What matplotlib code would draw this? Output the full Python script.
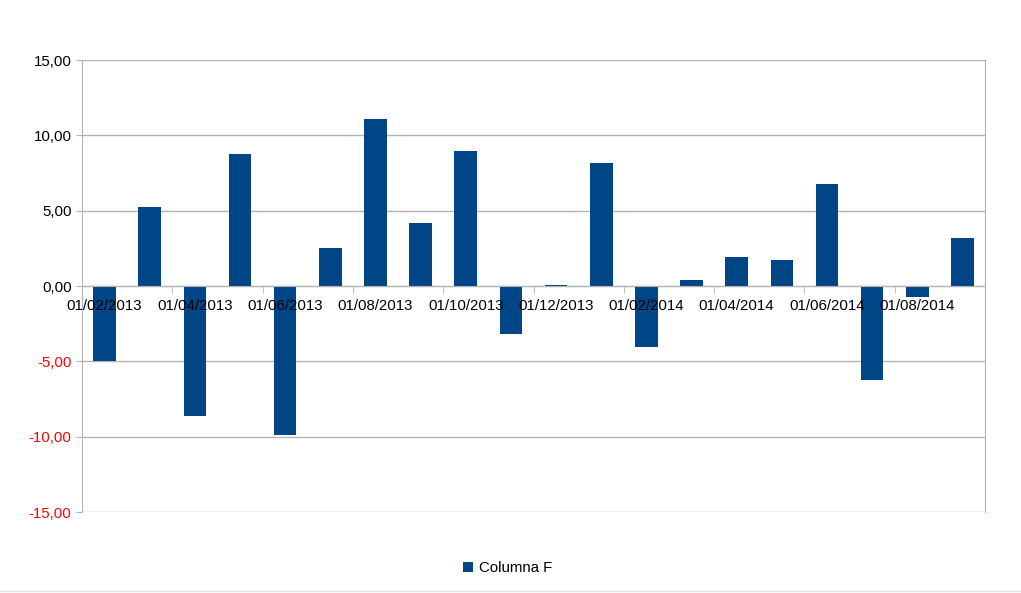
import numpy as np
import matplotlib.pyplot as plt
from matplotlib.lines import Line2D

plt.rcParams['font.family'] = ['Liberation Sans', 'DejaVu Sans']

# Monthly values (Columna F)
months = ['01/02/2013', '01/03/2013', '01/04/2013', '01/05/2013', '01/06/2013',
          '01/07/2013', '01/08/2013', '01/09/2013', '01/10/2013', '01/11/2013',
          '01/12/2013', '01/01/2014', '01/02/2014', '01/03/2014', '01/04/2014',
          '01/05/2014', '01/06/2014', '01/07/2014', '01/08/2014', '01/09/2014']
values = [-4.98, 5.23, -8.63, 8.74, -9.89, 2.54, 11.07, 4.18, 8.99, -3.21,
          0.07, 8.17, -4.03, 0.40, 1.95, 1.73, 6.75, -6.22, -0.76, 3.20]
yticks = [-15, -10, -5, 0, 5, 10, 15]

grey = '#b3b3b3'
fig = plt.figure(figsize=(10.21, 5.93), dpi=100)
ax = fig.add_axes([82/1021, 1 - 512/593, 903/1021, 452/593])

x = np.arange(len(months))
ax.bar(x, values, width=0.5, color='#004586', label='Columna F', zorder=2)

ax.set_xlim(-0.5, len(months) - 0.5)
ax.set_ylim(-15, 15)
ax.set_yticks(yticks)
ax.set_yticklabels([('%.2f' % v).replace('.', ',') for v in yticks])
for lbl, v in zip(ax.get_yticklabels(), yticks):
    lbl.set_color('#ff0000' if v < 0 else 'black')
ax.yaxis.grid(True, color=grey, linewidth=1)

# x axis along zero, labels every other month
ax.set_xticks(x[::2])
ax.set_xticklabels(months[::2])
ax.set_xticks(np.arange(-0.5, len(months), 2), minor=True)
ax.tick_params(axis='x', which='major', length=0, pad=9, labelsize=10.8)
ax.tick_params(axis='x', which='minor', length=5, color=grey, direction='out')
ax.tick_params(axis='y', length=4.5, color=grey, pad=3, labelsize=10.8)

# gridlines behind bars, date labels on top of them
ax.yaxis.set_zorder(0.5)
ax.xaxis.set_zorder(5)

ax.spines['bottom'].set_position(('data', 0))
ax.spines['top'].set_visible(False)
for s in ['left', 'bottom', 'right']:
    ax.spines[s].set_color(grey)
    ax.spines[s].set_zorder(4)

fig.legend(loc='center', bbox_to_anchor=(0.497, 1 - 568/593), frameon=False,
           handlelength=0.7, handleheight=0.7, handletextpad=0.4, fontsize=10.8)

# faint page border at the bottom
fig.add_artist(Line2D([0, 1], [1 - 591/593] * 2, color='#e0e0e0', linewidth=1))

fig.savefig('out.png', dpi=100)
